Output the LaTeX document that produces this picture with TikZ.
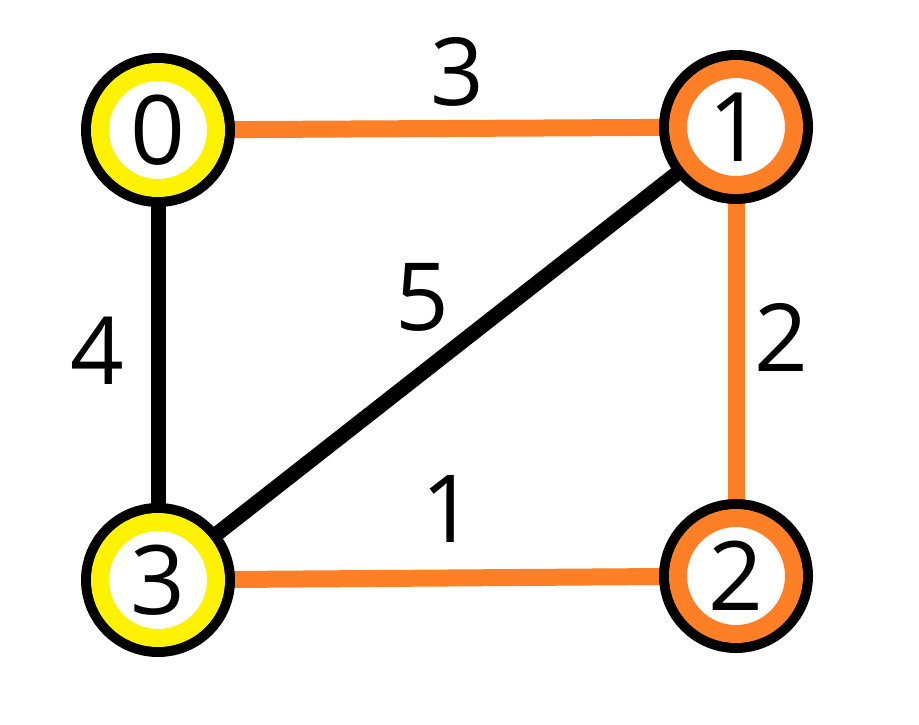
\documentclass[tikz,border=0pt]{standalone}
\usepackage{fontspec}
\setmainfont{Open Sans}
\usepackage{xcolor}
\definecolor{Ink}{HTML}{000000}
\definecolor{Sun}{HTML}{FFF200}
\definecolor{Tangerine}{HTML}{FF7F27}
\usetikzlibrary{backgrounds}
\tikzset{
  vertex/.style={circle,inner sep=0pt,outer sep=0pt,minimum size=116pt,
    fill=white,line width=18pt,preaction={draw=Ink,line width=38pt},
    font=\fontsize{96}{96}\selectfont},
  vertexyellow/.style={vertex,draw=Sun},
  vertexorange/.style={vertex,draw=Tangerine},
  weight/.style={inner sep=0pt,font=\fontsize{94}{94}\selectfont},
  edge/.style={line width=15pt,color=Ink},
  treeedge/.style={line width=17pt,color=Tangerine}
}
\begin{document}
\begin{tikzpicture}[x=1pt,y=-1pt]
  \useasboundingbox (0,0) rectangle (919,725);
  \node[vertexyellow] (v0) at (158,130) {0};
  \node[vertexorange] (v1) at (736,127) {1};
  \node[vertexorange] (v2) at (736,576) {2};
  \node[vertexyellow] (v3) at (158,580) {3};
  \begin{scope}[on background layer]
    \draw[treeedge] (v0.center) -- (v1.center);
    \draw[treeedge] (v1.center) -- (v2.center);
    \draw[treeedge] (v3.center) -- (v2.center);
    \draw[edge] (v0.center) -- (v3.center);
    \draw[edge] (v1.center) -- (v3.center);
  \end{scope}
  \node[weight] (w01) at (457,72) {3};
  \node[weight] (w13) at (422,297) {5};
  \node[weight] (w03) at (97,351) {4};
  \node[weight] (w12) at (781,337) {2};
  \node[weight] (w32) at (448,509) {1};
\end{tikzpicture}
\end{document}
